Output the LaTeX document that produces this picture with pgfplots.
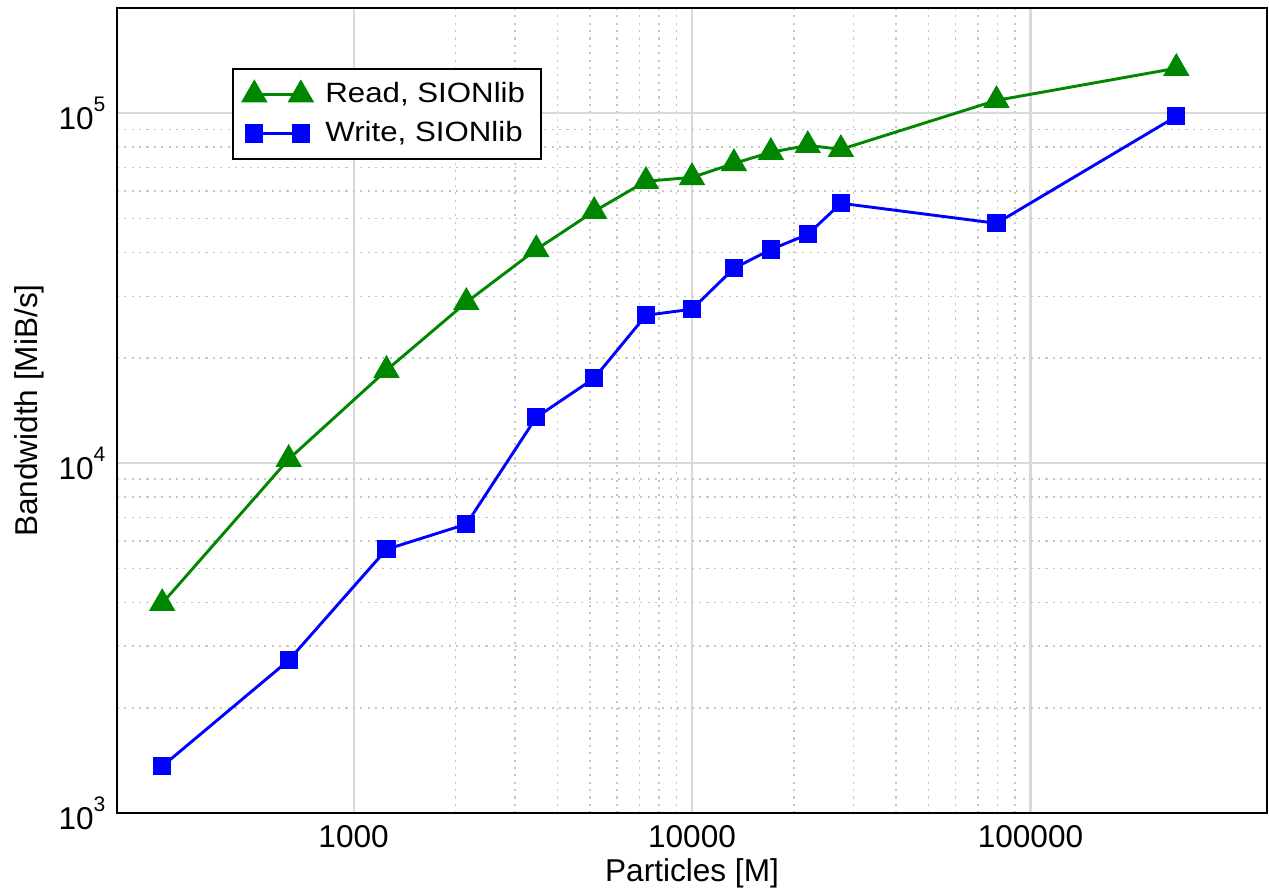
\documentclass[border=0pt]{standalone}
\usepackage{fontspec}
\setmainfont{Liberation Sans}
\newfontfamily\legfont[FakeStretch=1.12]{Liberation Sans}
\usepackage{pgfplots}
\pgfplotsset{compat=1.18}

\definecolor{readgreen}{RGB}{0,134,0}
\definecolor{writeblue}{RGB}{0,0,255}

% powers of ten for the y axis, with a raised exponent
\newcommand\pw[1]{10\raisebox{6.6pt}{\fontsize{8}{9}\selectfont #1}}

\begin{document}
\fontsize{12}{14}\selectfont
\begin{tikzpicture}
\useasboundingbox (-44.46pt,-30.4pt) rectangle (437.76pt,309.04pt);
\begin{loglogaxis}[
  scale only axis,
  width=437pt, height=306pt,
  xmin=200, xmax=500000,
  ymin=1000, ymax=200000,
  xtick={1000,10000,100000},
  xticklabels={1000,10000,100000},
  ytick={1000,10000,100000},
  yticklabels={\pw{3},\pw{4},\pw{5}},
  major tick length=0pt, minor tick length=0pt,
  grid=both,
  major grid style={gray!30, line width=0.8pt},
  minor grid style={gray!45, line width=0.6pt, dash pattern=on 0.8pt off 2pt},
  axis line style={black, line width=0.9pt},
  xlabel={Particles [M]},
  ylabel={Bandwidth [MiB/s]},
  xlabel style={at={(rel axis cs:0.5,0)}, anchor=base, yshift=-26.1pt},
  ylabel style={at={([xshift=-30.4pt]rel axis cs:0,0.5)}, anchor=base},
  xticklabel style={anchor=center, inner sep=0pt, yshift=-8.9pt},
  yticklabel style={anchor=east, inner sep=0pt, xshift=-4.2pt},
  tick label style={font=\fontsize{12}{14}\selectfont},
  label style={font=\fontsize{12}{14}\selectfont},
  legend style={at={(0.1,0.9255)}, anchor=north west, draw=black, line width=0.8pt,
    font=\legfont\fontsize{10.6}{12.7}\selectfont, inner xsep=4pt, inner ysep=3pt,
    row sep=1.3pt},
  legend cell align=left,
  legend image code/.code={
    \path[draw=none, fill=none] (0pt,-1pt) rectangle (25pt,1pt);
    \draw[mark repeat=2, mark phase=1, #1]
      plot coordinates {(0pt,0pt) (8.85pt,0pt) (17.7pt,0pt)};
  },
]
\addplot[readgreen, line width=1.1pt, mark=triangle*, mark size=4.7pt,
  mark options={solid, fill=readgreen}] coordinates {
  (272, 3980) (643, 10270) (1251, 18450) (2154, 28840) (3467, 40830)
  (5140, 52480) (7312, 63970) (10000, 65600) (13300, 71900) (17100, 77400)
  (21980, 81000) (27540, 78900) (79400, 108900) (269800, 134500)
};
\addlegendentry{Read, SIONlib}
\addplot[writeblue, line width=1.1pt, mark=square*, mark size=2.9pt,
  mark options={solid, fill=writeblue}] coordinates {
  (272, 1362) (643, 2735) (1251, 5675) (2154, 6700) (3467, 13530)
  (5140, 17500) (7312, 26480) (10000, 27560) (13300, 36060) (17100, 40830)
  (21980, 45080) (27540, 55320) (79400, 48500) (269800, 98000)
};
\addlegendentry{Write, SIONlib}
\end{loglogaxis}
\end{tikzpicture}
\end{document}
